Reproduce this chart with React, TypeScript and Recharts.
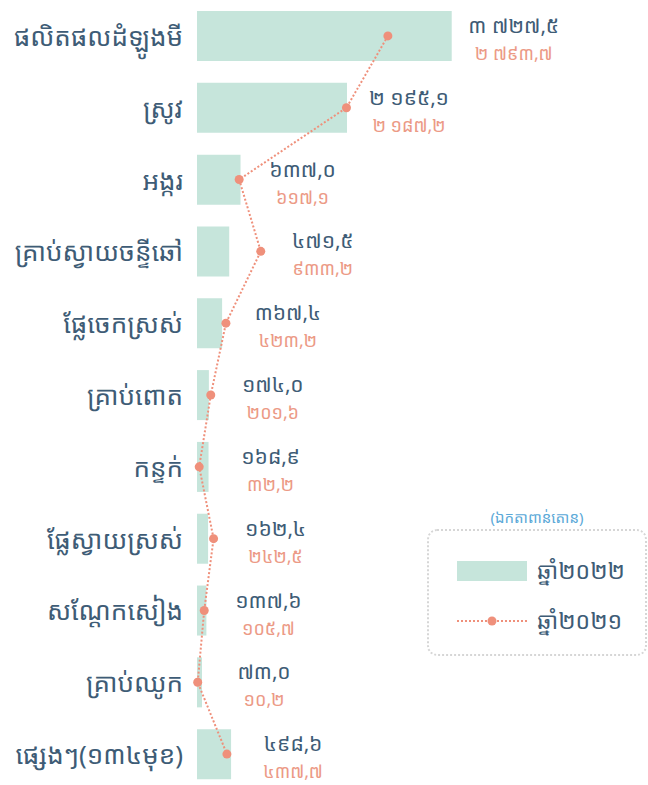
import { ComposedChart, Bar, Line, XAxis, YAxis, Legend } from 'recharts'

const categories = [
  'ផលិតផលដំឡូងមី',
  'ស្រូវ',
  'អង្ករ',
  'គ្រាប់ស្វាយចន្ទីឆៅ',
  'ផ្លែចេកស្រស់',
  'គ្រាប់ពោត',
  'កន្ទក់',
  'ផ្លែស្វាយស្រស់',
  'សណ្តែកសៀង',
  'គ្រាប់ឈូក',
  'ផ្សេងៗ(១៣៤មុខ)',
]

const values2022 = [3727.5, 2195.1, 637.0, 471.5, 367.4, 174.0, 168.9, 162.4, 137.6, 73.0, 498.6]
const values2021 = [2793.7, 2187.2, 617.1, 933.2, 423.2, 201.6, 32.2, 242.5, 105.7, 10.2, 437.7]

const seriesNames = ['ឆ្នាំ២០២២', 'ឆ្នាំ២០២១']
const unitLabel = '(ឯកតាពាន់តោន)'

const data = categories.map((name, i) => ({ name, y2022: values2022[i], y2021: values2021[i] }))

const BAR = '#c6e5db'
const LINE = '#ef907b'
const BLUE = '#3e5c76'
const SALMON = '#ec9a86'
const FONT = '"Noto Sans Khmer", "Khmer OS", "Noto Sans", sans-serif'

const khmerDigits = '០១២៣៤៥៦៧៨៩'
function toKhmer(n: number) {
  const [int, dec] = n.toFixed(1).split('.')
  const grouped = int.replace(/\B(?=(\d{3})+(?!\d))/g, ' ')
  return `${grouped},${dec}`.replace(/\d/g, (d) => khmerDigits[Number(d)])
}

const CategoryTick = (props: any) => {
  const { y, payload } = props
  return (
    <text x={183} y={y} textAnchor="end" dominantBaseline="central" fontSize={26} fill={BLUE} fontFamily={FONT}>
      {payload.value}
    </text>
  )
}

// both value labels sit to the right of whichever is further out: bar end or 2021 dot
const ValueLabels = (props: any) => {
  const { x, y, width, height, index } = props
  const perUnit = width / values2022[index]
  const dotX = x + values2021[index] * perUnit
  const cx = Math.max(x + width, dotX) + 62
  const cy = y + height / 2
  return (
    <g fontFamily={FONT} textAnchor="middle" dominantBaseline="central">
      <text x={cx} y={cy - 11} fontSize={21} fill={BLUE}>{toKhmer(values2022[index])}</text>
      <text x={cx} y={cy + 17} fontSize={18} fill={SALMON}>{toKhmer(values2021[index])}</text>
    </g>
  )
}

const LegendBox = () => (
  <div style={{ position: 'absolute', left: 427, top: 507, width: 220, fontFamily: FONT }}>
    <div style={{ textAlign: 'center', color: '#5ba9d8', fontSize: 15, lineHeight: '20px' }}>{unitLabel}</div>
    <div
      style={{
        marginTop: 2,
        height: 127,
        border: '2px dotted #d6d6d6',
        borderRadius: 10,
        boxSizing: 'border-box',
        position: 'relative',
      }}
    >
      <div style={{ position: 'absolute', left: 28, top: 30, width: 70, height: 20, background: BAR }} />
      <div style={{ position: 'absolute', left: 108, top: 25, fontSize: 23, color: BLUE, lineHeight: '28px' }}>{seriesNames[0]}</div>
      <svg style={{ position: 'absolute', left: 28, top: 80 }} width={70} height={20}>
        <line x1={0} y1={10} x2={70} y2={10} stroke={LINE} strokeWidth={2} strokeDasharray="2 2" />
        <circle cx={35} cy={10} r={4.5} fill={LINE} />
      </svg>
      <div style={{ position: 'absolute', left: 108, top: 75, fontSize: 23, color: BLUE, lineHeight: '28px' }}>{seriesNames[1]}</div>
    </div>
  </div>
)

export default function App() {
  return (
    <div style={{ position: 'absolute', left: 0, top: 0, width: 648, height: 785, overflow: 'hidden', background: '#fff' }}>
      <ComposedChart
        width={648}
        height={790}
        layout="vertical"
        data={data}
        margin={{ top: 0, right: 0, bottom: 0, left: 0 }}
        barCategoryGap={0}
      >
        <XAxis type="number" domain={[0, 6600]} hide />
        <YAxis
          type="category"
          dataKey="name"
          width={197}
          axisLine={false}
          tickLine={false}
          tick={<CategoryTick />}
          interval={0}
        />
        <Bar dataKey="y2022" name={seriesNames[0]} fill={BAR} barSize={50} isAnimationActive={false} label={<ValueLabels />} />
        <Line
          dataKey="y2021"
          name={seriesNames[1]}
          stroke={LINE}
          strokeWidth={2}
          strokeDasharray="2 2"
          dot={{ r: 4.5, fill: LINE, stroke: 'none' }}
          activeDot={false}
          isAnimationActive={false}
        />
        <Legend content={() => null} />
      </ComposedChart>
      <LegendBox />
    </div>
  )
}
